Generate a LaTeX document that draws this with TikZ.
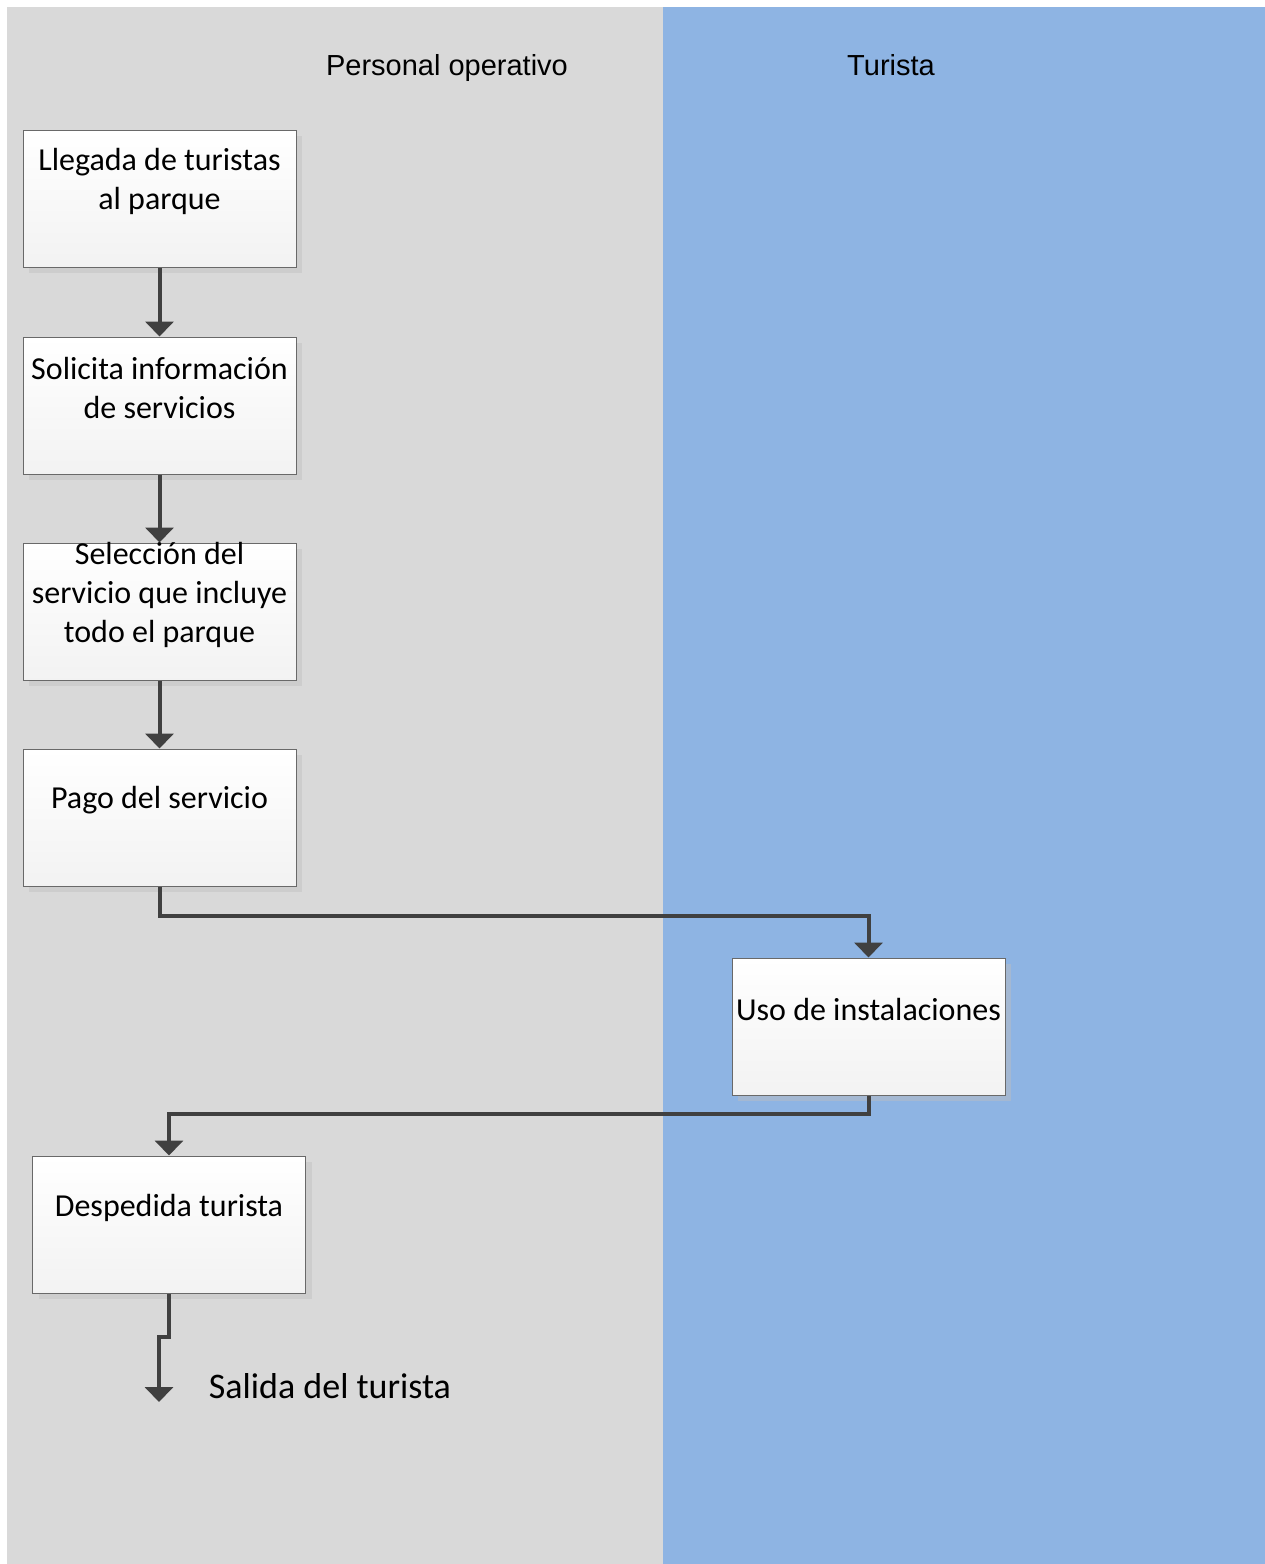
\documentclass[tikz,border=0pt]{standalone}
\usepackage{fontspec}
\setmainfont{Carlito}
\newfontfamily\lanefont{Liberation Sans}
\usepackage{xcolor}
\definecolor{lanegray}{RGB}{217,217,217}
\definecolor{laneblue}{RGB}{142,180,227}
\definecolor{flowline}{RGB}{64,64,64}
\definecolor{boxline}{RGB}{105,105,105}
\usetikzlibrary{arrows.meta,positioning,shadows}

\begin{document}
\begin{tikzpicture}[x=1pt,y=-1pt,
lanehead/.style={font=\lanefont\fontsize{29}{34}\selectfont,inner sep=0pt,anchor=base},
stepbox/.style={draw=boxline,line width=1pt,top color=white,bottom color=black!5,minimum width=273pt,minimum height=137pt,inner sep=0pt,drop shadow={shadow xshift=6pt,shadow yshift=-6pt,fill=black!25,opacity=.45}},
boxtext/.style={anchor=center,yshift=-52pt,align=center,inner sep=0pt,font=\fontsize{32}{39}\selectfont},
flow/.style={-{Triangle[width=28pt,length=15pt]},line width=4pt,draw=flowline},
endtext/.style={font=\fontsize{36}{43}\selectfont,inner sep=0pt}]
\useasboundingbox (0,0) rectangle (1265,1564);
% carriles
\fill[lanegray] (7,7) rectangle (663,1564);
\fill[laneblue] (663,7) rectangle (1265,1564);
\node[lanehead] (hpersonal) at (447,75) {Personal operativo};
\node[lanehead] (hturista) at (891,75) {Turista};
% pasos
\node[stepbox,label={[boxtext]north:{Llegada de turistas\\al parque}}] (llegada) at (159.5,198.5) {};
\node[stepbox,label={[boxtext]north:{Solicita información\\de servicios}}] (solicita) at (159.5,405.5) {};
\node[stepbox,label={[boxtext]north:{Selección del\\servicio que incluye\\todo el parque}}] (seleccion) at (159.5,611.5) {};
\node[stepbox,label={[boxtext]north:{Pago del servicio}}] (pago) at (159.5,817.5) {};
\node[stepbox,label={[boxtext]north:{Uso de instalaciones}}] (uso) at (868.5,1026.5) {};
\node[stepbox,label={[boxtext]north:{Despedida turista}}] (despedida) at (169,1224.5) {};
\coordinate (fin) at (159,1402);
\node[endtext] (salida) at (330,1386) {Salida del turista};
% flechas
\draw[flow] (llegada.south) -- (solicita.north);
\draw[flow] (solicita.south) -- (seleccion.north);
\draw[flow] (seleccion.south) -- (pago.north);
\draw[flow] (pago.south) -- ++(0,29) -| (uso.north);
\draw[flow] (uso.south) -- ++(0,18) -| (despedida.north);
\draw[flow] (despedida.south) -- ++(0,43) -| (fin);
\end{tikzpicture}
\end{document}
